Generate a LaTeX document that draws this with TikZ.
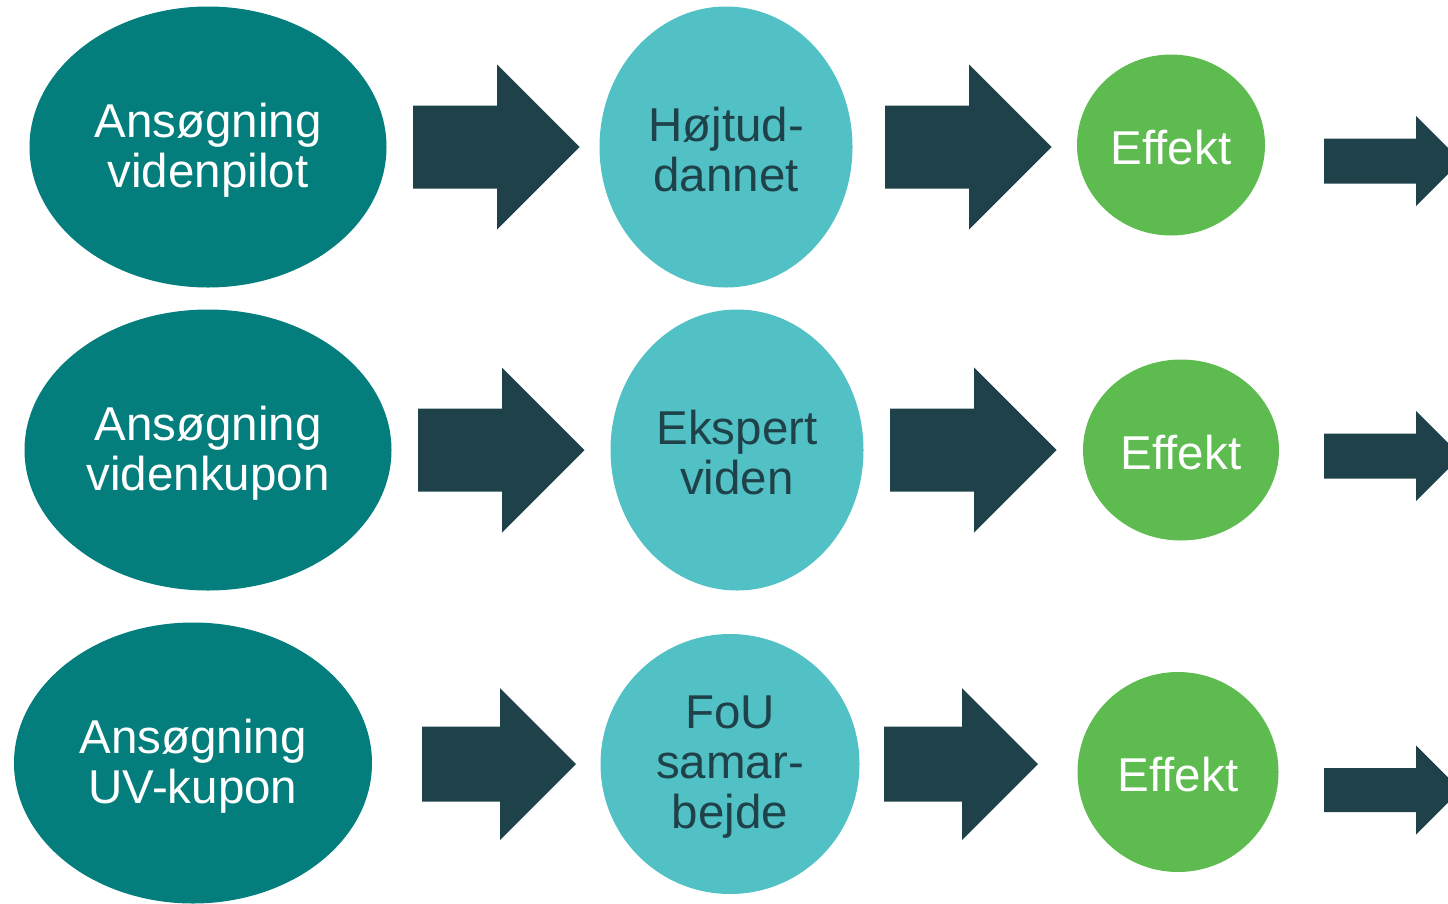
\documentclass[tikz,border=0pt]{standalone}
\usepackage{fontspec}
\setmainfont{Liberation Sans}
\usetikzlibrary{shapes.geometric}
\definecolor{dteal}{HTML}{037E7C}
\definecolor{lteal}{HTML}{52C1C5}
\definecolor{lgreen}{HTML}{5DBB4F}
\definecolor{darr}{HTML}{1F424A}
\tikzset{
  blob/.style={ellipse, inner sep=0pt, draw=none},
  appl/.style={blob, fill=dteal},
  mid/.style={blob, fill=lteal},
  eff/.style={blob, fill=lgreen},
  txtw/.style={text=white, align=center, font=\fontsize{47.5}{50}\selectfont, inner sep=0pt, yshift=-3pt},
  txtd/.style={text=darr, align=center, font=\fontsize{47.5}{50}\selectfont, inner sep=0pt, yshift=-3pt},
  barrow/.style={fill=darr, draw=none}
}
% block arrow: x-start, x-shaft-end, y-centre, shaft half-height, head half-height
\newcommand{\blockarr}[5]{%
  \fill[barrow] (#1,#3-#4) -- (#2,#3-#4) -- (#2,#3-#5) -- ({#2+#5},#3) -- (#2,#3+#5) -- (#2,#3+#4) -- (#1,#3+#4) -- cycle;}
\begin{document}
\begin{tikzpicture}[x=1pt,y=-1pt]
\useasboundingbox (0,0) rectangle (1448,903);
\begin{scope}
\clip (0,0) rectangle (1448,903);
% row 1
\node[appl, minimum width=357pt, minimum height=281pt] (a1) at (208,147) {};
\node[txtw] (ta1) at (a1) {Ansøgning\\videnpilot};
\node[mid, minimum width=253pt, minimum height=281pt] (b1) at (726,147) {};
\node[txtd] (tb1) at (b1) {Højtud-\\dannet};
\node[eff, minimum width=188pt, minimum height=181pt] (c1) at (1171,145) {};
\node[txtw] (tc1) at (c1) {Effekt};
\blockarr{413}{497}{147}{41.5}{82.5}
\blockarr{885}{969}{147}{41.5}{82.5}
\blockarr{1324}{1416}{161}{22.5}{45}
% row 2
\node[appl, minimum width=367pt, minimum height=281pt] (a2) at (208,450) {};
\node[txtw] (ta2) at (a2) {Ansøgning\\videnkupon};
\node[mid, minimum width=253pt, minimum height=281pt] (b2) at (737,450) {};
\node[txtd] (tb2) at (b2) {Ekspert\\viden};
\node[eff, minimum width=196pt, minimum height=181pt] (c2) at (1181,450) {};
\node[txtw] (tc2) at (c2) {Effekt};
\blockarr{418}{502}{450}{41.5}{82.5}
\blockarr{890}{974}{450}{41.5}{82.5}
\blockarr{1324}{1416}{456}{22.5}{45}
% row 3
\node[appl, minimum width=358pt, minimum height=281pt] (a3) at (193,763) {};
\node[txtw] (ta3) at (a3) {Ansøgning\\UV-kupon};
\node[mid, minimum width=259pt, minimum height=260pt] (b3) at (730,764) {};
\node[txtd] (tb3) at (b3) {FoU\\samar-\\bejde};
\node[eff, minimum width=201pt, minimum height=200pt] (c3) at (1178,772) {};
\node[txtw] (tc3) at (c3) {Effekt};
\blockarr{422}{500}{764}{37.5}{76}
\blockarr{884}{962}{764}{37.5}{76}
\blockarr{1324}{1416}{790}{22}{44.5}
\end{scope}
\end{tikzpicture}
\end{document}
